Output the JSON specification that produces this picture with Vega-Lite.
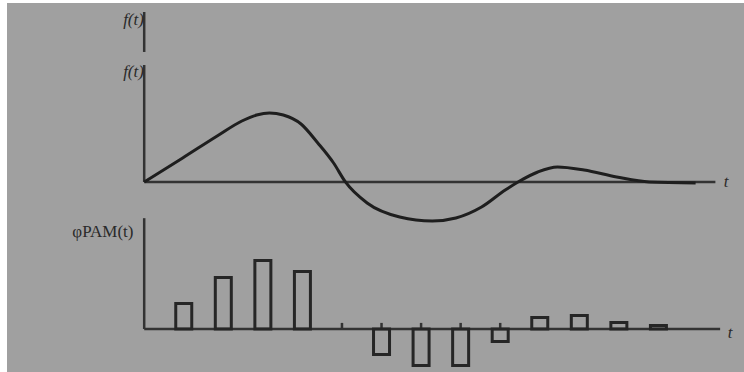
{
  "$schema": "https://vega.github.io/schema/vega-lite/v6.json",
  "autosize": {"type": "none"},
  "width": 737,
  "height": 369,
  "padding": {"left": 7, "top": 3, "right": 0, "bottom": 0},
  "background": "#ffffff",
  "config": {"view": {"fill": "#a0a0a0", "stroke": null}},
  "datasets": {
    "curve": [
      {"t": 0, "f": 0},
      {"t": 0.973, "f": 0.353},
      {"t": 1.845, "f": 0.676},
      {"t": 2.469, "f": 0.897},
      {"t": 2.843, "f": 0.985},
      {"t": 3.167, "f": 1.015},
      {"t": 3.516, "f": 0.985},
      {"t": 3.965, "f": 0.853},
      {"t": 4.389, "f": 0.574},
      {"t": 4.788, "f": 0.279},
      {"t": 5.087, "f": 0},
      {"t": 5.636, "f": -0.309},
      {"t": 6.459, "f": -0.515},
      {"t": 7.282, "f": -0.574},
      {"t": 7.88, "f": -0.529},
      {"t": 8.529, "f": -0.368},
      {"t": 9.127, "f": -0.118},
      {"t": 9.451, "f": 0},
      {"t": 9.95, "f": 0.147},
      {"t": 10.449, "f": 0.221},
      {"t": 11.122, "f": 0.176},
      {"t": 11.945, "f": 0.074},
      {"t": 12.768, "f": 0.0},
      {"t": 13.94, "f": -0.015}
    ],
    "pam": [
      {"t": 1, "p": 0.375},
      {"t": 2, "p": 0.757},
      {"t": 3, "p": 1.007},
      {"t": 4, "p": 0.846},
      {"t": 6, "p": -0.375},
      {"t": 7, "p": -0.537},
      {"t": 8, "p": -0.537},
      {"t": 9, "p": -0.184},
      {"t": 10, "p": 0.169},
      {"t": 11, "p": 0.199},
      {"t": 12, "p": 0.096},
      {"t": 13, "p": 0.051}
    ],
    "topLines": [
      {"t": 0, "t2": 14.44, "v": 0, "v2": 0},
      {"t": 0, "t2": 0, "v": 0, "v2": 1.72},
      {"t": 0, "t2": 0, "v": 1.912, "v2": 2.5}
    ],
    "bottomLines": [
      {"t": 0, "t2": 14.56, "v": 0, "v2": 0},
      {"t": 0, "t2": 0, "v": 0, "v2": 1.63},
      {"t": 5, "t2": 5, "v": 0, "v2": 0.09},
      {"t": 6, "t2": 6, "v": 0, "v2": 0.09},
      {"t": 7, "t2": 7, "v": 0, "v2": 0.09},
      {"t": 8, "t2": 8, "v": 0, "v2": 0.09},
      {"t": 9, "t2": 9, "v": 0, "v2": 0.09}
    ],
    "italicLabels": [
      {"label": "f(t)", "t": -0.27, "v": 2.38, "side": "left"},
      {"label": "f(t)", "t": -0.27, "v": 1.62, "side": "left"},
      {"label": "t", "t": 14.71, "v": 0, "side": "end"}
    ],
    "bottomItalic": [
      {"label": "t", "t": 14.81, "v": -0.06}
    ],
    "bottomLabel": [
      {"label": "φPAM(t)", "t": -0.27, "v": 1.43}
    ]
  },
  "layer": [
    {
      "data": {"name": "topLines"},
      "mark": {"type": "rule", "color": "#333333", "strokeWidth": 2.5},
      "encoding": {
        "x": {"field": "t", "type": "quantitative", "scale": {"domain": [-3.342, 15.037], "nice": false, "zero": false}, "axis": null},
        "x2": {"field": "t2"},
        "y": {"field": "v", "type": "quantitative", "scale": {"domain": [-2.794, 2.632], "nice": false, "zero": false}, "axis": null},
        "y2": {"field": "v2"}
      }
    },
    {
      "data": {"name": "curve"},
      "mark": {"type": "line", "color": "#1e1e1e", "strokeWidth": 3, "interpolate": "monotone"},
      "encoding": {
        "x": {"field": "t", "type": "quantitative", "scale": {"domain": [-3.342, 15.037], "nice": false, "zero": false}, "axis": null},
        "y": {"field": "f", "type": "quantitative", "scale": {"domain": [-2.794, 2.632], "nice": false, "zero": false}, "axis": null}
      }
    },
    {
      "data": {"name": "italicLabels"},
      "mark": {"type": "text", "font": "Liberation Serif", "fontStyle": "italic", "fontSize": 17, "color": "#2a2a2a", "baseline": "middle"},
      "encoding": {
        "x": {"field": "t", "type": "quantitative", "scale": {"domain": [-3.342, 15.037], "nice": false, "zero": false}, "axis": null},
        "y": {"field": "v", "type": "quantitative", "scale": {"domain": [-2.794, 2.632], "nice": false, "zero": false}, "axis": null},
        "text": {"field": "label"},
        "align": {"condition": {"test": "datum.side === 'left'", "value": "right"}, "value": "center"}
      }
    },
    {
      "data": {"name": "bottomLines"},
      "mark": {"type": "rule", "color": "#333333", "strokeWidth": 2.5},
      "encoding": {
        "x": {"field": "t", "type": "quantitative", "scale": {"domain": [-3.342, 15.037], "nice": false, "zero": false}, "axis": null},
        "x2": {"field": "t2"},
        "y": {"field": "v", "type": "quantitative", "scale": {"domain": [-0.632, 4.794], "nice": false, "zero": false}, "axis": null},
        "y2": {"field": "v2"}
      }
    },
    {
      "data": {"name": "pam"},
      "mark": {"type": "bar", "size": 16, "fill": "#a0a0a0", "fillOpacity": 0, "stroke": "#262626", "strokeWidth": 3},
      "encoding": {
        "x": {"field": "t", "type": "quantitative", "scale": {"domain": [-3.342, 15.037], "nice": false, "zero": false}, "axis": null},
        "y": {"field": "p", "type": "quantitative", "scale": {"domain": [-0.632, 4.794], "nice": false, "zero": false}, "axis": null},
        "y2": {"datum": 0}
      }
    },
    {
      "data": {"name": "bottomItalic"},
      "mark": {"type": "text", "font": "Liberation Serif", "fontStyle": "italic", "fontSize": 17, "color": "#2a2a2a", "baseline": "middle", "align": "center"},
      "encoding": {
        "x": {"field": "t", "type": "quantitative", "scale": {"domain": [-3.342, 15.037], "nice": false, "zero": false}, "axis": null},
        "y": {"field": "v", "type": "quantitative", "scale": {"domain": [-0.632, 4.794], "nice": false, "zero": false}, "axis": null},
        "text": {"field": "label"}
      }
    },
    {
      "data": {"name": "bottomLabel"},
      "mark": {"type": "text", "font": "Liberation Serif", "fontSize": 17, "color": "#2a2a2a", "baseline": "middle", "align": "right"},
      "encoding": {
        "x": {"field": "t", "type": "quantitative", "scale": {"domain": [-3.342, 15.037], "nice": false, "zero": false}, "axis": null},
        "y": {"field": "v", "type": "quantitative", "scale": {"domain": [-0.632, 4.794], "nice": false, "zero": false}, "axis": null},
        "text": {"field": "label"}
      }
    }
  ],
  "resolve": {"scale": {"y": "independent"}}
}
